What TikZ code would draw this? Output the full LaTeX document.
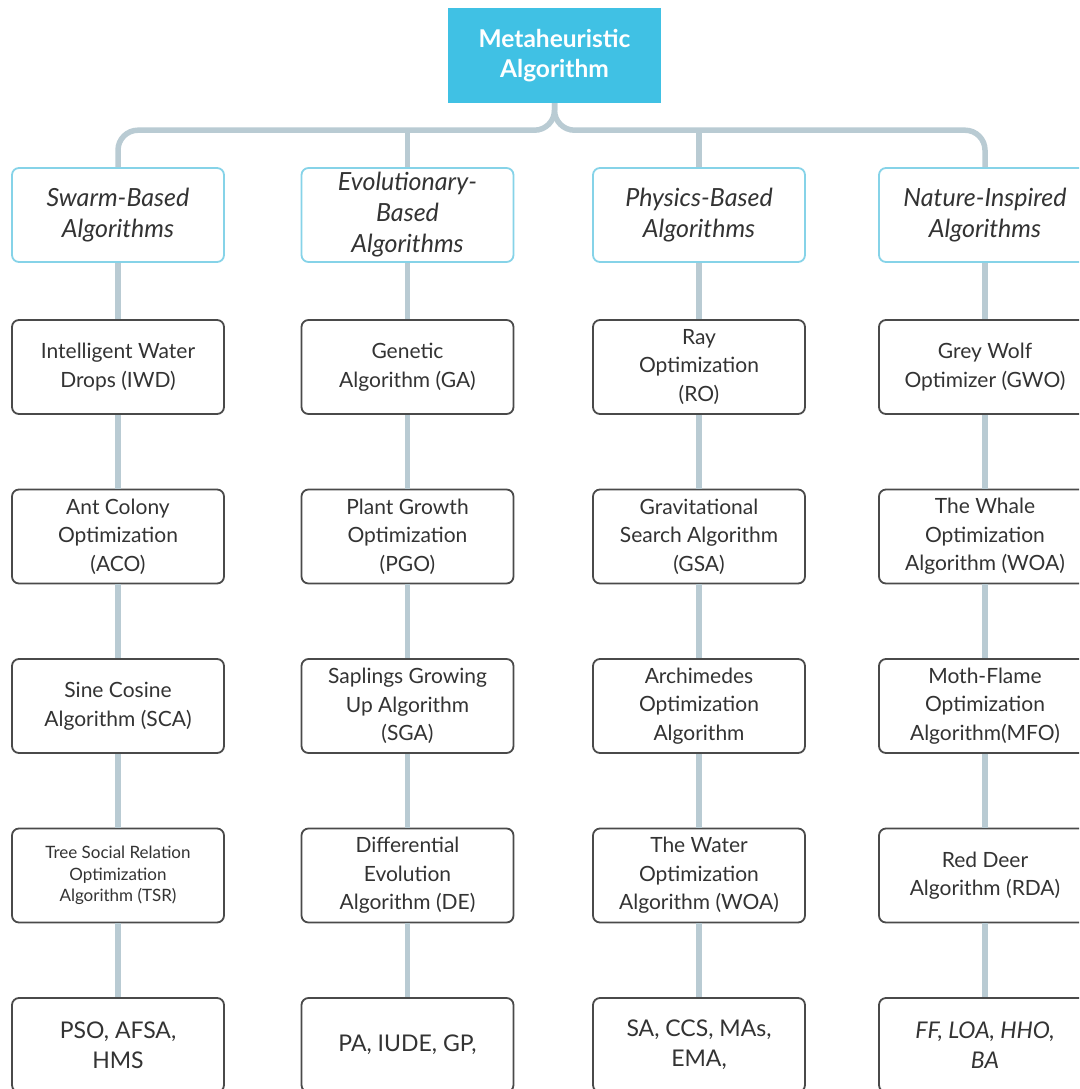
\documentclass[tikz,border=0pt]{standalone}
\usepackage{fontspec}
\setmainfont{Lato}
\definecolor{rootfill}{HTML}{40C1E4}
\definecolor{catline}{HTML}{86D3E8}
\definecolor{boxline}{HTML}{4A4A4A}
\definecolor{linkline}{HTML}{B9CBD3}
\definecolor{ink}{HTML}{333333}
\begin{document}
\begin{tikzpicture}[x=1pt,y=-1pt,
  rootbox/.style={fill=rootfill, draw=none, minimum width=213pt, minimum height=95pt,
    inner sep=0pt, align=center, text=white,
    font=\fontsize{24.5}{30}\selectfont\bfseries},
  catbox/.style={draw=catline, line width=1.8pt, fill=white, rounded corners=7pt,
    minimum width=212pt, minimum height=94pt, inner sep=0pt, align=center, text=ink,
    font=\fontsize{25}{31}\selectfont\itshape},
  algbox/.style={draw=boxline, line width=1.8pt, fill=white, rounded corners=7pt,
    minimum width=212pt, minimum height=94pt, inner sep=0pt, align=center, text=ink,
    font=\fontsize{21}{28.5}\selectfont},
  smallbox/.style={algbox, font=\fontsize{17}{21.5}\selectfont},
  bigbox/.style={algbox, font=\fontsize{23}{30}\selectfont},
  link/.style={draw=linkline, line width=5.5pt}
]
\clip (0,0) rectangle (1079,1089);
\useasboundingbox (0,0) rectangle (1079,1089);

% root
\node[rootbox] (root) at (554.5,55.5) {Metaheuristic\\Algorithm};

% category row
\node[catbox] (s0) at (118,215) {Swarm-Based\\Algorithms};
\node[catbox] (e0) at (407.5,215) {Evolutionary-\\Based\\Algorithms};
\node[catbox] (p0) at (699,215) {Physics-Based\\Algorithms};
\node[catbox] (n0) at (985,215) {Nature-Inspired\\Algorithms};

% swarm-based column
\node[algbox] (s1) at (118,367) {Intelligent Water\\Drops (IWD)};
\node[algbox] (s2) at (118,536.5) {Ant Colony\\Optimization\\(ACO)};
\node[algbox] (s3) at (118,706) {Sine Cosine\\Algorithm (SCA)};
\node[smallbox] (s4) at (118,875.5) {Tree Social Relation\\Optimization\\Algorithm (TSR)};
\node[bigbox] (s5) at (118,1045) {PSO, AFSA,\\HMS};

% evolutionary column
\node[algbox] (e1) at (407.5,367) {Genetic\\Algorithm (GA)};
\node[algbox] (e2) at (407.5,536.5) {Plant Growth\\Optimization\\(PGO)};
\node[algbox] (e3) at (407.5,706) {Saplings Growing\\Up Algorithm\\(SGA)};
\node[algbox] (e4) at (407.5,875.5) {Differential\\Evolution\\Algorithm (DE)};
\node[bigbox] (e5) at (407.5,1045) {PA, IUDE, GP,};

% physics column
\node[algbox] (p1) at (699,367) {Ray\\Optimization\\(RO)};
\node[algbox] (p2) at (699,536.5) {Gravitational\\Search Algorithm\\(GSA)};
\node[algbox] (p3) at (699,706) {Archimedes\\Optimization\\Algorithm};
\node[algbox] (p4) at (699,875.5) {The Water\\Optimization\\Algorithm (WOA)};
\node[bigbox] (p5) at (699,1045) {SA, CCS, MAs,\\EMA,};

% nature-inspired column
\node[algbox] (n1) at (985,367) {Grey Wolf\\Optimizer (GWO)};
\node[algbox] (n2) at (985,536.5) {The Whale\\Optimization\\Algorithm (WOA)};
\node[algbox] (n3) at (985,706) {Moth-Flame\\Optimization\\Algorithm(MFO)};
\node[algbox] (n4) at (985,875.5) {Red Deer\\Algorithm (RDA)};
\node[bigbox, font=\fontsize{23}{30}\selectfont\itshape] (n5) at (985,1045) {FF, LOA, HHO,\\BA};

% connectors
\coordinate (bus) at (0,130);
\draw[link, rounded corners=20pt] (root.south) -- ++(0,27) -| (s0.north);
\draw[link, rounded corners=20pt] (root.south) -- ++(0,27) -| (n0.north);
\draw[link] (e0.north) -- (e0.north |- bus);
\draw[link] (p0.north) -- (p0.north |- bus);
\foreach \c in {s,e,p,n}{
  \draw[link] (\c0) -- (\c1);
  \draw[link] (\c1) -- (\c2);
  \draw[link] (\c2) -- (\c3);
  \draw[link] (\c3) -- (\c4);
  \draw[link] (\c4) -- (\c5);
}
\end{tikzpicture}
\end{document}
